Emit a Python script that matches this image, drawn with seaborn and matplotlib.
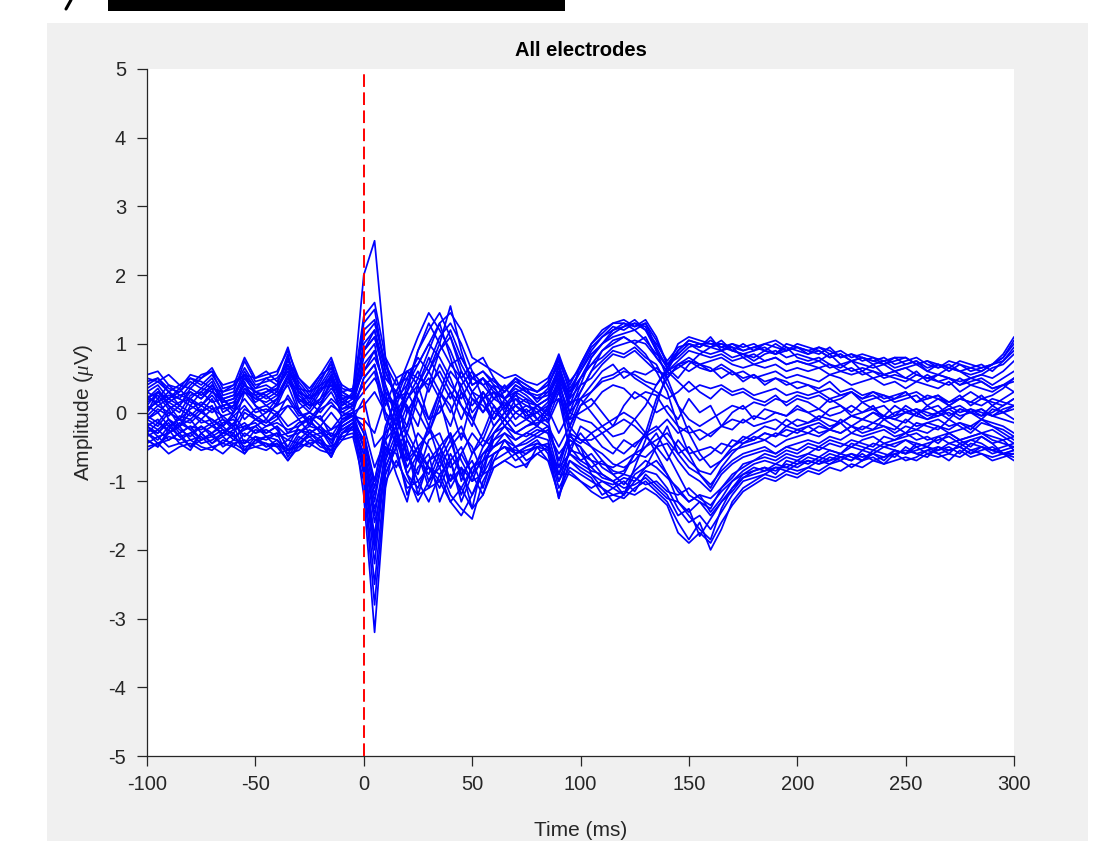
import numpy as np
import pandas as pd
import matplotlib
matplotlib.use("Agg")
import matplotlib.pyplot as plt
import seaborn as sns
from matplotlib.patches import Rectangle
from matplotlib.lines import Line2D

# time axis (ms), 5 ms steps from -100 to 300
times = list(range(-100, 301, 5))

# electrode traces (µV)
e01 = [0.2,0.35,0.1,0.0,0.25,0.3,0.45,0.1,0.15,0.4,0.2,0.3,0.35,0.6,0.2,0.05,0.3,0.5,0.1,0.3,
       2.0,2.5,0.8,0.1,-0.2,0.3,0.6,1.0,1.55,0.9,0.4,0.5,0.2,0.1,0.3,0.2,0.1,0.2,0.6,0.1,0.5,
       0.8,1.0,1.2,1.3,1.25,1.35,1.1,0.7,0.9,1.05,1.0,0.95,1.05,0.9,0.85,0.9,1.0,0.95,0.9,1.0,
       0.95,0.9,0.8,0.85,0.75,0.8,0.7,0.75,0.65,0.7,0.75,0.6,0.7,0.65,0.6,0.55,0.6,0.7,0.85,1.1]
e02 = [-0.3,-0.4,-0.2,-0.35,-0.5,-0.3,-0.45,-0.3,-0.2,-0.55,-0.35,-0.4,-0.3,-0.65,-0.4,-0.25,-0.35,-0.6,-0.2,-0.1,
       -1.2,-3.2,-1.1,-0.3,-0.9,-1.3,-1.0,-0.8,-1.2,-1.4,-1.55,-1.0,-0.7,-0.6,-0.5,-0.7,-0.6,-0.5,-1.1,-0.8,-0.9,
       -1.0,-1.1,-1.2,-1.25,-1.1,-1.0,-1.15,-1.3,-1.6,-1.85,-1.6,-2.0,-1.7,-1.3,-1.1,-1.0,-0.9,-0.95,-0.85,-0.9,
       -0.8,-0.85,-0.75,-0.7,-0.8,-0.7,-0.65,-0.75,-0.6,-0.7,-0.65,-0.55,-0.6,-0.7,-0.55,-0.65,-0.6,-0.7,-0.65,-0.6]
e03 = [0.4,0.5,0.3,0.2,0.4,0.55,0.6,0.25,0.3,0.75,0.45,0.5,0.55,0.95,0.4,0.2,0.45,0.75,0.2,0.25,
       1.3,1.5,0.6,0.2,0.3,0.9,1.2,1.45,1.1,0.7,0.4,0.5,0.3,0.2,0.4,0.3,0.2,0.35,0.8,0.3,0.6,
       0.9,1.1,1.25,1.2,1.3,1.25,0.9,0.65,1.0,1.1,1.05,1.0,0.95,1.0,0.9,0.95,1.0,1.05,0.95,0.9,
       0.85,0.95,0.9,0.8,0.85,0.75,0.8,0.7,0.75,0.8,0.7,0.75,0.65,0.7,0.6,0.65,0.7,0.6,0.75,0.9]
e04 = [-0.4,-0.5,-0.3,-0.2,-0.4,-0.35,-0.5,-0.45,-0.3,-0.6,-0.4,-0.5,-0.45,-0.7,-0.5,-0.3,-0.4,-0.65,-0.3,-0.2,
       -0.9,-2.5,-0.9,-0.5,-1.2,-0.8,-0.6,-1.3,-0.9,-1.1,-0.8,-0.6,-0.5,-0.4,-0.6,-0.5,-0.4,-0.6,-1.25,-0.7,-0.8,
       -0.9,-1.0,-1.1,-1.2,-0.9,-0.8,-0.7,-0.9,-1.3,-1.5,-1.7,-1.85,-1.4,-1.1,-0.9,-0.8,-0.85,-0.75,-0.8,-0.7,
       -0.75,-0.65,-0.7,-0.6,-0.65,-0.7,-0.55,-0.6,-0.65,-0.5,-0.6,-0.55,-0.5,-0.6,-0.45,-0.55,-0.5,-0.6,-0.55,-0.5]
e05 = [0.1,0.3,0.2,0.1,0.3,0.2,0.35,0.0,0.1,0.5,0.3,0.2,0.3,0.7,0.3,0.1,0.2,0.55,0.1,0.2,
       1.0,1.2,0.4,-0.1,0.2,0.5,0.9,1.3,0.8,0.3,0.1,0.3,0.0,-0.1,0.2,0.1,0.0,0.15,0.7,0.0,0.4,
       0.8,1.0,1.15,1.25,1.3,1.2,0.9,0.5,0.1,-0.3,-0.6,-0.8,-0.7,-0.5,-0.4,-0.3,-0.2,-0.25,-0.1,-0.2,
       -0.15,-0.1,-0.2,-0.15,-0.05,-0.1,0.0,-0.1,-0.05,0.0,0.05,-0.05,0.0,0.1,0.0,0.05,-0.05,0.0,0.1,0.2]
e06 = [-0.2,-0.3,-0.1,-0.25,-0.35,-0.2,-0.3,-0.15,-0.1,-0.45,-0.25,-0.3,-0.2,-0.55,-0.3,-0.15,-0.25,-0.5,-0.1,-0.05,
       -0.8,-2.0,-0.7,0.0,-0.6,-0.9,-0.4,-0.3,-0.7,-1.3,-0.9,-0.5,-0.3,-0.2,-0.4,-0.3,-0.2,-0.3,-0.9,-0.4,-0.5,
       -0.7,-0.9,-1.0,-1.2,-0.8,-0.4,0.1,0.6,0.9,1.05,1.0,0.95,1.0,0.9,0.85,0.8,0.9,0.85,0.95,0.8,
       0.75,0.8,0.7,0.65,0.75,0.6,0.7,0.55,0.6,0.5,0.6,0.45,0.55,0.5,0.4,0.5,0.45,0.35,0.4,0.3]
e07 = [0.0,0.2,-0.1,-0.2,0.1,0.0,0.2,-0.1,-0.2,0.3,0.1,0.0,0.2,0.4,0.0,-0.1,0.1,0.3,0.0,0.1,
       0.7,0.9,0.3,-0.4,-0.2,0.4,0.8,0.5,0.2,0.6,0.3,0.0,0.2,0.4,0.1,0.0,-0.2,0.1,0.5,-0.2,0.2,
       0.4,0.6,0.7,0.5,0.6,0.55,0.65,0.5,0.7,0.6,0.7,0.65,0.5,0.6,0.45,0.55,0.4,0.5,0.45,0.35,
       0.4,0.3,0.35,0.25,0.3,0.2,0.3,0.25,0.2,0.3,0.15,0.25,0.2,0.1,0.2,0.15,0.25,0.1,0.2,0.3]
e08 = [-0.1,-0.2,0.0,-0.1,-0.25,-0.1,-0.2,-0.3,-0.15,-0.35,-0.2,-0.1,-0.25,-0.5,-0.2,-0.05,-0.2,-0.45,-0.15,0.0,
       -0.5,-1.5,-0.6,-0.2,-0.9,-0.6,-1.1,-0.7,-0.4,-0.9,-1.2,-0.8,-0.4,-0.3,-0.5,-0.4,-0.3,-0.2,-0.7,-0.3,-0.6,
       -0.8,-0.7,-0.9,-0.85,-0.6,-0.5,-0.3,-0.6,-0.9,-1.2,-1.3,-1.4,-1.1,-0.9,-0.8,-0.7,-0.6,-0.65,-0.55,-0.6,
       -0.5,-0.55,-0.45,-0.5,-0.4,-0.45,-0.5,-0.35,-0.4,-0.3,-0.4,-0.35,-0.45,-0.3,-0.4,-0.35,-0.3,-0.4,-0.45,-0.5]
e09 = [0.1,0.0,0.15,0.05,-0.05,0.1,0.0,0.1,0.15,-0.1,0.05,0.1,0.0,0.1,0.05,0.15,0.0,0.2,0.05,0.1,
       0.3,0.5,0.2,0.1,-0.3,0.2,-0.2,0.3,0.1,-0.4,0.2,0.1,-0.1,0.2,0.0,0.1,0.05,-0.1,0.3,-0.3,0.1,
       0.2,0.0,-0.2,0.1,0.3,0.2,0.0,0.1,-0.1,0.2,0.0,0.1,-0.2,0.0,0.1,-0.1,0.05,0.0,-0.05,0.1,
       0.0,-0.1,0.05,0.1,-0.05,0.0,0.1,-0.1,0.0,0.05,-0.05,0.1,0.0,-0.1,0.05,0.0,-0.05,0.1,0.0,-0.1]
e10 = [-0.2,-0.1,-0.3,-0.2,0.0,-0.15,-0.1,-0.25,-0.3,0.0,-0.1,-0.2,-0.1,0.1,-0.1,-0.3,-0.2,0.0,-0.2,-0.1,
       0.2,-0.5,-0.3,0.3,0.1,-0.5,-0.3,0.2,-0.4,-0.2,-0.6,-0.3,0.1,-0.2,0.0,-0.1,-0.2,0.0,0.4,-0.6,-0.2,
       -0.3,-0.5,-0.6,-0.4,-0.5,-0.3,-0.2,-0.4,-0.6,-0.5,-0.7,-0.6,-0.45,-0.5,-0.35,-0.4,-0.3,-0.35,-0.25,-0.3,
       -0.2,-0.3,-0.25,-0.15,-0.3,-0.2,-0.25,-0.1,-0.2,-0.3,-0.15,-0.2,-0.25,-0.1,-0.2,-0.3,-0.15,-0.2,-0.3,-0.4]
e11 = [0.3,0.4,0.2,0.3,0.45,0.35,0.5,0.2,0.25,0.6,0.35,0.4,0.3,0.8,0.35,0.15,0.4,0.65,0.25,0.2,
       0.9,1.1,0.5,0.3,0.7,1.1,1.45,1.2,0.9,0.5,0.7,0.8,0.5,0.3,0.5,0.4,0.3,0.4,0.7,0.2,0.7,
       1.0,1.2,1.3,1.35,1.25,1.3,0.95,0.65,0.5,0.7,0.85,0.95,0.9,1.0,0.95,1.0,0.9,0.85,1.0,0.95,
       0.9,0.85,0.95,0.8,0.85,0.8,0.75,0.8,0.7,0.75,0.8,0.7,0.65,0.75,0.7,0.6,0.65,0.7,0.8,1.0]
e12 = [-0.35,-0.25,-0.4,-0.3,-0.2,-0.4,-0.35,-0.45,-0.5,-0.3,-0.4,-0.45,-0.5,-0.4,-0.45,-0.5,-0.35,-0.3,-0.4,-0.2,
       -0.7,-1.8,-0.5,-0.6,-1.1,-1.0,-0.8,-0.9,-1.3,-1.1,-1.4,-1.2,-0.8,-0.7,-0.6,-0.8,-0.5,-0.7,-0.9,-0.9,-1.0,
       -1.1,-1.0,-1.05,-0.95,-1.0,-0.85,-0.9,-1.1,-1.4,-1.6,-1.5,-1.7,-1.45,-1.2,-1.0,-0.95,-0.9,-0.8,-0.85,-0.75,
       -0.7,-0.75,-0.65,-0.7,-0.6,-0.65,-0.6,-0.7,-0.55,-0.6,-0.5,-0.6,-0.55,-0.5,-0.6,-0.45,-0.5,-0.55,-0.5,-0.45]
e13 = [0.3,0.2,0.4,0.25,0.2,0.35,0.3,0.15,0.2,0.4,0.3,0.35,0.25,0.5,0.3,0.2,0.35,0.4,0.3,0.2,
       0.6,0.8,0.4,0.0,0.3,0.6,0.3,0.7,0.4,0.2,0.5,0.4,0.2,0.3,0.5,0.3,0.2,0.25,0.6,0.2,0.4,
       0.5,0.7,0.85,0.8,0.9,0.75,0.6,0.55,0.65,0.75,0.7,0.6,0.65,0.55,0.6,0.5,0.55,0.6,0.5,0.55,
       0.5,0.45,0.55,0.5,0.4,0.45,0.5,0.4,0.45,0.35,0.45,0.4,0.35,0.45,0.3,0.4,0.35,0.3,0.4,0.5]
e14 = [-0.25,-0.3,-0.15,-0.35,-0.3,-0.2,-0.35,-0.25,-0.4,-0.2,-0.3,-0.25,-0.35,-0.3,-0.25,-0.35,-0.3,-0.4,-0.25,-0.15,
       -0.4,-1.2,-0.5,-0.8,-0.4,-0.7,-0.9,-0.5,-0.8,-0.6,-0.9,-0.7,-0.5,-0.4,-0.6,-0.5,-0.45,-0.5,-1.25,-0.5,-0.7,
       -0.6,-0.8,-0.9,-1.05,-0.85,-0.7,-0.8,-0.95,-1.1,-1.3,-1.2,-1.25,-1.1,-0.95,-0.75,-0.7,-0.65,-0.7,-0.6,-0.65,
       -0.6,-0.5,-0.55,-0.6,-0.45,-0.5,-0.55,-0.45,-0.5,-0.4,-0.45,-0.5,-0.35,-0.45,-0.4,-0.5,-0.35,-0.45,-0.6,-0.7]
e15 = [0.15,0.25,0.05,0.15,0.2,0.1,0.25,0.05,0.1,0.3,0.2,0.15,0.25,0.55,0.15,0.0,0.2,0.4,0.05,0.15,
       0.4,0.6,-0.1,-0.3,0.1,-0.2,0.4,0.6,0.3,-0.1,0.3,0.2,-0.1,0.1,0.2,0.0,0.1,-0.05,0.5,0.1,0.3,
       0.6,0.75,0.9,0.85,0.95,0.8,0.7,0.4,0.1,-0.1,-0.2,-0.1,0.0,0.1,0.05,0.15,0.1,0.2,0.15,0.25,
       0.2,0.25,0.15,0.2,0.3,0.2,0.25,0.15,0.2,0.25,0.3,0.2,0.25,0.15,0.2,0.3,0.2,0.25,0.35,0.5]
e16 = [-0.1,0.0,-0.2,-0.1,-0.15,0.0,-0.1,-0.2,-0.05,-0.25,-0.1,-0.15,-0.05,-0.3,-0.15,-0.1,-0.05,-0.35,-0.1,0.0,
       -0.3,-1.0,-0.2,0.2,-0.4,-0.7,-0.2,-0.5,-1.0,-0.6,-0.3,-0.5,-0.2,0.0,-0.2,-0.1,0.0,-0.15,0.2,-0.5,-0.3,
       -0.5,-0.7,-0.85,-0.9,-0.6,-0.3,0.2,0.5,0.7,0.75,0.65,0.6,0.7,0.6,0.5,0.55,0.45,0.5,0.4,0.45,
       0.4,0.35,0.45,0.3,0.35,0.25,0.3,0.2,0.25,0.3,0.15,0.2,0.25,0.1,0.2,0.15,0.1,0.2,0.15,0.1]
e17 = [0.2,0.15,0.3,0.1,0.35,0.25,0.4,0.15,0.2,0.55,0.25,0.3,0.4,0.85,0.25,0.1,0.35,0.6,0.15,0.25,
       0.9,1.1,0.5,0.3,0.6,0.4,0.7,1.1,1.3,1.0,0.6,0.4,0.5,0.2,0.3,0.35,0.15,0.3,0.65,0.25,0.5,
       0.7,0.9,1.05,1.1,1.0,1.1,0.8,0.6,0.75,0.9,0.85,0.8,0.85,0.75,0.8,0.7,0.75,0.8,0.7,0.75,
       0.7,0.75,0.65,0.7,0.6,0.65,0.6,0.55,0.6,0.65,0.55,0.5,0.55,0.5,0.45,0.5,0.55,0.5,0.6,0.75]
e18 = [-0.5,-0.45,-0.35,-0.4,-0.3,-0.45,-0.4,-0.3,-0.35,-0.5,-0.45,-0.35,-0.4,-0.55,-0.45,-0.35,-0.5,-0.55,-0.3,-0.25,
       -0.6,-1.4,-0.8,-0.4,-0.7,-0.5,-0.8,-1.0,-0.6,-0.9,-0.7,-1.1,-0.6,-0.5,-0.7,-0.6,-0.5,-0.55,-0.8,-0.6,-0.75,
       -0.85,-0.9,-1.0,-0.9,-0.95,-1.05,-1.0,-1.15,-1.2,-1.1,-1.25,-1.35,-1.15,-1.0,-0.9,-0.85,-0.8,-0.9,-0.7,-0.75,
       -0.65,-0.7,-0.6,-0.65,-0.7,-0.55,-0.6,-0.5,-0.55,-0.6,-0.45,-0.5,-0.55,-0.45,-0.5,-0.4,-0.45,-0.55,-0.6,-0.65]
e19 = [-0.05,0.1,0.0,-0.1,0.05,0.15,0.05,-0.05,0.0,0.2,0.0,0.05,-0.05,0.25,0.0,-0.15,0.05,0.15,-0.05,0.0,
       0.1,0.3,0.0,-0.2,0.2,0.4,-0.1,0.0,0.3,0.1,-0.2,0.3,0.1,-0.1,0.1,-0.05,0.0,0.1,0.2,-0.1,0.0,
       0.1,0.3,0.4,0.35,0.2,0.3,0.25,0.0,-0.2,-0.3,-0.25,-0.35,-0.2,-0.1,-0.15,-0.05,-0.1,0.0,-0.05,0.05,
       0.0,0.05,-0.05,0.0,0.1,0.0,0.05,-0.05,0.1,0.0,0.05,0.0,-0.05,0.05,0.1,0.0,0.05,-0.05,0.0,0.1]
e20 = [-0.15,-0.25,-0.1,-0.3,-0.2,-0.25,-0.15,-0.35,-0.25,-0.2,-0.15,-0.3,-0.2,-0.35,-0.3,-0.2,-0.25,-0.4,-0.2,-0.1,
       -0.4,-1.0,-0.3,-0.1,-0.5,-1.2,-0.7,-0.5,-0.3,-0.7,-1.0,-0.6,-0.4,-0.2,-0.3,-0.35,-0.25,-0.3,-0.6,-0.4,-0.5,
       -0.9,-1.1,-1.3,-1.2,-1.0,-0.8,-0.5,-0.2,-0.6,-0.8,-0.9,-1.05,-0.85,-0.7,-0.6,-0.55,-0.5,-0.6,-0.5,-0.45,
       -0.4,-0.45,-0.35,-0.4,-0.3,-0.35,-0.3,-0.25,-0.35,-0.3,-0.25,-0.3,-0.2,-0.3,-0.25,-0.2,-0.3,-0.25,-0.35,-0.45]
e21 = [0.45,0.5,0.35,0.3,0.5,0.4,0.55,0.3,0.35,0.65,0.4,0.45,0.5,0.7,0.45,0.25,0.5,0.7,0.3,0.35,
       1.1,1.3,0.7,0.4,0.5,0.8,0.6,0.9,1.2,0.8,0.5,0.6,0.4,0.3,0.45,0.35,0.3,0.4,0.75,0.35,0.6,
       0.85,1.0,1.1,1.15,1.2,1.05,0.85,0.7,0.85,1.0,0.9,0.85,0.9,0.8,0.85,0.75,0.85,0.9,0.8,0.85,
       0.8,0.75,0.85,0.7,0.75,0.7,0.65,0.7,0.6,0.65,0.7,0.6,0.55,0.65,0.6,0.5,0.55,0.65,0.7,0.85]
e22 = [-0.45,-0.35,-0.5,-0.45,-0.4,-0.5,-0.55,-0.4,-0.45,-0.4,-0.5,-0.55,-0.45,-0.6,-0.55,-0.4,-0.45,-0.5,-0.35,-0.3,
       -0.8,-2.2,-0.7,-0.3,-0.6,-1.0,-1.3,-0.9,-0.7,-1.2,-0.8,-0.7,-0.6,-0.5,-0.55,-0.6,-0.45,-0.5,-1.0,-0.7,-0.85,
       -0.95,-1.2,-1.1,-1.0,-1.15,-0.9,-1.05,-1.2,-1.5,-1.4,-1.8,-1.55,-1.3,-1.15,-0.95,-0.9,-0.85,-0.8,-0.8,-0.85,
       -0.8,-0.7,-0.75,-0.65,-0.7,-0.6,-0.7,-0.65,-0.6,-0.55,-0.6,-0.65,-0.5,-0.55,-0.5,-0.6,-0.55,-0.5,-0.6,-0.55]
e23 = [0.05,0.15,0.25,0.2,0.1,0.3,0.15,0.2,0.05,0.35,0.15,0.25,0.1,0.45,0.2,0.1,0.15,0.35,0.15,0.05,
       0.5,0.7,0.1,0.5,0.0,0.3,0.5,0.2,0.6,0.4,0.0,0.2,0.4,0.05,0.25,0.15,0.1,0.2,0.4,0.0,0.2,
       0.3,0.45,0.5,0.6,0.55,0.45,0.4,0.6,0.45,0.3,0.4,0.35,0.4,0.3,0.35,0.25,0.3,0.35,0.25,0.3,
       0.25,0.3,0.2,0.25,0.3,0.15,0.2,0.25,0.15,0.2,0.25,0.1,0.2,0.15,0.25,0.1,0.2,0.15,0.1,0.2]
e24 = [-0.3,-0.15,-0.25,-0.05,-0.1,-0.3,-0.2,-0.1,-0.25,-0.15,-0.3,-0.2,-0.15,-0.25,-0.2,-0.1,-0.3,-0.25,-0.15,-0.05,
       -0.2,-0.8,-0.4,0.1,-0.7,-0.3,-0.5,-0.8,-0.5,-0.3,-0.5,-0.9,-0.3,-0.1,-0.3,-0.2,-0.1,-0.2,-0.5,-0.2,-0.4,
       -0.4,-0.3,-0.5,-0.6,-0.45,-0.35,-0.5,-0.7,-0.4,-0.6,-0.55,-0.5,-0.6,-0.4,-0.45,-0.35,-0.4,-0.3,-0.35,-0.25,
       -0.3,-0.2,-0.25,-0.3,-0.2,-0.25,-0.15,-0.2,-0.25,-0.1,-0.2,-0.15,-0.1,-0.2,-0.15,-0.25,-0.1,-0.15,-0.2,-0.3]
e25 = [0.25,0.1,0.2,0.35,0.15,0.1,0.3,0.2,0.0,0.35,0.25,0.1,0.2,0.5,0.15,0.25,0.1,0.45,0.2,0.1,
       0.8,1.0,0.2,-0.2,0.4,0.7,1.0,0.8,0.5,0.1,-0.1,0.2,0.3,0.0,0.1,0.2,-0.1,0.05,0.45,-0.1,0.3,
       0.6,0.9,1.0,1.1,1.0,0.85,0.6,0.3,-0.2,-0.6,-0.9,-1.1,-0.8,-0.6,-0.45,-0.4,-0.3,-0.35,-0.2,-0.25,
       -0.2,-0.15,-0.25,-0.1,-0.2,-0.1,-0.15,-0.05,-0.1,-0.15,0.0,-0.1,-0.05,0.0,-0.1,0.05,0.0,-0.05,0.05,0.1]
e26 = [-0.05,-0.15,0.05,-0.2,-0.1,0.05,-0.15,-0.05,-0.2,0.05,-0.05,-0.15,0.0,-0.2,-0.1,0.0,-0.1,-0.25,-0.05,0.05,
       -0.3,-1.1,-0.4,-0.9,-1.3,-0.6,-0.2,-0.7,-1.0,-0.8,-1.4,-0.7,-0.3,-0.1,-0.3,-0.2,-0.15,-0.1,-0.8,-0.3,-0.4,
       -0.5,-0.6,-0.75,-0.8,-0.7,-0.5,-0.4,-0.3,-0.5,-0.7,-0.85,-0.9,-0.7,-0.55,-0.5,-0.45,-0.4,-0.5,-0.4,-0.35,
       -0.3,-0.35,-0.25,-0.3,-0.2,-0.3,-0.25,-0.2,-0.3,-0.2,-0.25,-0.15,-0.2,-0.25,-0.15,-0.2,-0.1,-0.2,-0.25,-0.35]
e27 = [0.5,0.45,0.55,0.4,0.35,0.5,0.6,0.4,0.45,0.55,0.5,0.6,0.45,0.75,0.5,0.35,0.55,0.65,0.4,0.3,
       1.4,1.6,0.8,0.5,0.6,0.7,1.0,1.3,1.45,1.2,0.8,0.7,0.6,0.5,0.55,0.45,0.4,0.5,0.8,0.45,0.65,
       0.95,1.1,1.2,1.25,1.35,1.2,1.0,0.75,0.95,1.0,0.95,1.05,0.95,0.9,1.0,0.9,0.95,0.85,0.9,0.95,
       0.85,0.9,0.8,0.85,0.75,0.8,0.75,0.7,0.8,0.7,0.75,0.65,0.7,0.6,0.7,0.65,0.6,0.7,0.75,0.95]
e28 = [-0.55,-0.45,-0.6,-0.5,-0.45,-0.55,-0.5,-0.6,-0.45,-0.55,-0.5,-0.45,-0.6,-0.55,-0.5,-0.45,-0.55,-0.6,-0.4,-0.35,
       -1.0,-2.8,-1.0,-0.7,-1.0,-1.2,-1.1,-1.0,-1.3,-1.5,-1.2,-0.9,-0.8,-0.7,-0.8,-0.75,-0.6,-0.7,-1.2,-0.85,-1.0,
       -1.15,-1.25,-1.2,-1.15,-1.2,-1.1,-1.2,-1.35,-1.75,-1.9,-1.75,-1.9,-1.6,-1.35,-1.15,-1.05,-0.95,-1.0,-0.9,-0.95,
       -0.85,-0.9,-0.8,-0.85,-0.75,-0.8,-0.7,-0.75,-0.7,-0.65,-0.7,-0.6,-0.65,-0.6,-0.65,-0.55,-0.6,-0.65,-0.6,-0.55]
e29 = [0.0,0.3,0.1,-0.1,0.2,0.0,0.1,-0.2,0.0,0.45,0.1,-0.1,0.15,0.55,0.05,-0.2,0.1,0.5,-0.1,0.0,
       0.5,0.7,0.0,-0.5,0.0,0.3,0.6,0.3,0.0,0.4,0.6,0.2,-0.2,0.0,0.3,-0.1,0.1,0.0,0.35,-0.2,0.1,
       0.3,0.5,0.55,0.65,0.5,0.4,0.3,0.2,0.3,0.45,0.3,0.2,0.35,0.25,0.3,0.2,0.15,0.25,0.1,0.2,
       0.15,0.05,0.2,0.1,0.0,0.15,0.05,0.1,-0.05,0.1,0.0,0.05,0.1,-0.05,0.05,0.0,-0.1,0.05,0.0,0.05]
e30 = [-0.4,-0.5,-0.25,-0.45,-0.55,-0.3,-0.45,-0.35,-0.5,-0.6,-0.4,-0.35,-0.5,-0.7,-0.45,-0.3,-0.45,-0.65,-0.3,-0.15,
       -0.6,-1.6,-0.9,-0.5,-0.3,-0.6,-0.8,-1.1,-0.7,-0.5,-0.9,-1.2,-0.7,-0.4,-0.5,-0.45,-0.35,-0.4,-1.0,-0.55,-0.6,
       -0.7,-0.75,-0.8,-0.7,-0.6,-0.65,-0.5,-0.45,-0.7,-0.9,-1.0,-1.15,-0.9,-0.75,-0.65,-0.6,-0.55,-0.6,-0.5,-0.55,
       -0.45,-0.5,-0.4,-0.45,-0.5,-0.4,-0.35,-0.45,-0.4,-0.35,-0.3,-0.4,-0.35,-0.3,-0.4,-0.35,-0.3,-0.35,-0.4,-0.55]
e31 = [0.2,0.3,0.15,0.25,0.3,0.2,0.4,0.2,0.25,0.5,0.3,0.25,0.35,0.65,0.3,0.2,0.3,0.55,0.2,0.25,
       0.6,0.9,0.3,0.1,0.5,0.2,-0.1,0.3,0.7,0.5,0.2,0.0,0.3,0.2,0.35,0.25,0.1,0.2,0.55,0.15,0.2,
       0.0,-0.2,-0.35,-0.3,-0.1,0.1,0.4,0.65,0.85,1.0,0.95,1.1,0.9,0.95,0.8,0.85,0.75,0.8,0.7,0.75,
       0.7,0.65,0.7,0.6,0.65,0.55,0.6,0.5,0.55,0.5,0.45,0.55,0.45,0.4,0.5,0.4,0.45,0.35,0.4,0.45]
e32 = [-0.2,-0.35,-0.3,-0.15,-0.25,-0.4,-0.3,-0.2,-0.35,-0.25,-0.2,-0.35,-0.3,-0.4,-0.25,-0.3,-0.2,-0.35,-0.25,-0.15,
       -0.5,-1.3,-0.4,-0.2,-0.8,-0.5,-1.0,-0.6,-0.3,-1.0,-0.6,-0.4,-0.5,-0.3,-0.4,-0.3,-0.35,-0.25,-0.7,-0.35,-0.45,
       -0.3,-0.2,-0.1,0.0,-0.1,-0.3,-0.6,-0.9,-1.15,-1.3,-1.2,-1.45,-1.25,-1.0,-0.85,-0.75,-0.7,-0.75,-0.65,-0.7,
       -0.6,-0.65,-0.55,-0.6,-0.5,-0.55,-0.45,-0.5,-0.45,-0.4,-0.5,-0.45,-0.4,-0.35,-0.45,-0.4,-0.35,-0.45,-0.4,-0.35]
e33 = [0.35,0.45,0.3,0.4,0.5,0.45,0.35,0.3,0.4,0.55,0.35,0.5,0.4,0.6,0.35,0.3,0.4,0.5,0.3,0.2,
       0.9,1.2,0.6,0.2,0.6,0.5,0.4,0.9,1.1,0.6,0.3,0.5,0.35,0.2,0.4,0.3,0.25,0.3,0.5,0.3,0.5,
       0.7,0.8,0.95,1.0,1.05,1.0,0.8,0.6,0.7,0.8,0.7,0.75,0.8,0.7,0.65,0.7,0.65,0.7,0.6,0.65,
       0.6,0.65,0.55,0.6,0.55,0.6,0.5,0.55,0.5,0.45,0.55,0.5,0.45,0.5,0.4,0.45,0.5,0.4,0.5,0.6]
e34 = [-0.1,0.05,-0.05,0.1,0.0,-0.1,0.05,0.1,-0.05,0.1,-0.1,0.0,0.1,0.2,-0.05,0.0,-0.1,0.1,0.0,-0.05,
       -0.1,-0.3,0.2,-0.2,0.3,0.0,-0.3,0.1,-0.2,0.3,-0.1,-0.4,0.0,0.15,-0.1,0.05,-0.1,0.05,-0.3,0.0,-0.1,
       -0.15,-0.3,-0.2,-0.1,-0.2,-0.35,-0.25,-0.1,-0.3,-0.2,-0.4,-0.3,-0.2,-0.25,-0.1,-0.2,-0.15,-0.1,-0.2,-0.1,
       -0.15,-0.05,-0.1,-0.15,-0.05,-0.1,0.0,-0.05,-0.1,0.0,-0.05,-0.1,0.0,0.05,-0.05,0.0,0.05,-0.05,-0.1,-0.15]
e35 = [0.55,0.6,0.4,0.35,0.55,0.5,0.65,0.35,0.4,0.8,0.5,0.55,0.6,0.9,0.5,0.3,0.55,0.8,0.35,0.3,
       1.2,1.35,0.7,0.2,0.4,0.9,1.3,1.0,0.7,0.8,0.5,0.6,0.45,0.35,0.5,0.4,0.3,0.45,0.85,0.4,0.7,
       1.0,1.15,1.3,1.3,1.2,1.3,1.05,0.7,0.8,0.95,1.0,1.0,1.0,0.95,0.9,0.95,0.9,1.0,0.9,0.95,
       0.9,0.95,0.85,0.9,0.8,0.85,0.8,0.75,0.8,0.8,0.7,0.75,0.7,0.65,0.75,0.7,0.65,0.7,0.8,1.05]
e36 = [-0.3,-0.45,-0.4,-0.3,-0.5,-0.4,-0.3,-0.5,-0.4,-0.45,-0.35,-0.5,-0.4,-0.6,-0.35,-0.45,-0.4,-0.55,-0.3,-0.2,
       -0.7,-1.9,-0.8,-0.4,-0.9,-1.1,-0.7,-0.6,-1.1,-0.8,-1.0,-0.9,-0.6,-0.5,-0.6,-0.55,-0.5,-0.45,-0.9,-0.6,-0.7,
       -0.8,-0.95,-1.0,-1.1,-1.05,-0.95,-1.1,-1.25,-1.3,-1.45,-1.3,-1.5,-1.3,-1.1,-0.95,-0.85,-0.8,-0.85,-0.75,-0.8,
       -0.7,-0.75,-0.7,-0.65,-0.6,-0.7,-0.6,-0.65,-0.55,-0.6,-0.55,-0.5,-0.6,-0.55,-0.5,-0.6,-0.5,-0.55,-0.6,-0.6]

electrodes = [e01, e02, e03, e04, e05, e06, e07, e08, e09, e10, e11, e12,
              e13, e14, e15, e16, e17, e18, e19, e20, e21, e22, e23, e24,
              e25, e26, e27, e28, e29, e30, e31, e32, e33, e34, e35, e36]

x_ticks = [-100, -50, 0, 50, 100, 150, 200, 250, 300]
y_ticks = [-5, -4, -3, -2, -1, 0, 1, 2, 3, 4, 5]
title_text = "All electrodes"
xlabel_text = "Time (ms)"
ylabel_text = r"Amplitude ($\mu$V)"
stim_time = 0

rows = []
for k, tr in enumerate(electrodes):
    n = min(len(tr), len(times))
    for t, v in zip(times[:n], tr[:n]):
        rows.append({"electrode": k, "time": t, "amp": v})
df = pd.DataFrame(rows)

sns.set_style("white")
plt.rcParams["font.family"] = ["Liberation Sans", "DejaVu Sans"]
plt.rcParams["mathtext.fontset"] = "custom"
plt.rcParams["mathtext.it"] = "Liberation Serif:italic"
plt.rcParams["mathtext.rm"] = "Liberation Sans"

W, H = 1109, 841
fig = plt.figure(figsize=(W / 100, H / 100), dpi=100, facecolor="white")

# screenshot surroundings: grey figure panel, black bar and glyph fragment at the top
fig.patches.append(Rectangle((47 / W, 0), (1088 - 47) / W, 1 - 23 / H,
                             transform=fig.transFigure, facecolor="#f0f0f0",
                             edgecolor="none", zorder=-10))
fig.patches.append(Rectangle((108 / W, 1 - 11 / H), (565 - 108) / W, 11 / H,
                             transform=fig.transFigure, facecolor="black",
                             edgecolor="none", zorder=-9))
fig.lines.append(Line2D([66 / W, 71 / W], [1 - 9 / H, 1.0], transform=fig.transFigure,
                        color="black", linewidth=2.2))

ax = fig.add_axes([147 / W, 1 - 756 / H, (1014 - 147) / W, (756 - 69) / H])
ax.set_facecolor("white")

sns.lineplot(data=df, x="time", y="amp", units="electrode", estimator=None,
             color="#0000ff", linewidth=1.25, ax=ax, legend=False)

ax.plot([stim_time, stim_time], [y_ticks[0], y_ticks[-1]], color="#ff0000",
        linestyle=(0, (6.5, 2.8)), linewidth=1.4, zorder=5)

ax.set_xlim(x_ticks[0], x_ticks[-1])
ax.set_ylim(y_ticks[0], y_ticks[-1])
ax.set_xticks(x_ticks)
ax.set_yticks(y_ticks)
ax.set_xticklabels([str(v) for v in x_ticks])
ax.set_yticklabels([str(v) for v in y_ticks])

for s in ["top", "right"]:
    ax.spines[s].set_visible(False)
for s in ["left", "bottom"]:
    ax.spines[s].set_color("#262626")
    ax.spines[s].set_linewidth(0.9)

ax.tick_params(axis="both", which="major", bottom=True, left=True,
               direction="out", length=7, width=0.9,
               colors="#262626", labelcolor="#262626", labelsize=14.5)
ax.tick_params(axis="x", pad=7)
ax.tick_params(axis="y", pad=8)

ax.set_title(title_text, fontsize=14.5, fontweight="bold", color="black", pad=9)
ax.set_xlabel(xlabel_text, fontsize=15, color="#262626", va="center")
ax.xaxis.set_label_coords(0.5, -(830 - 756) / (756 - 69))
ax.set_ylabel(ylabel_text, fontsize=15, color="#262626", labelpad=9)

fig.savefig("out.png", dpi=100, facecolor="white")
